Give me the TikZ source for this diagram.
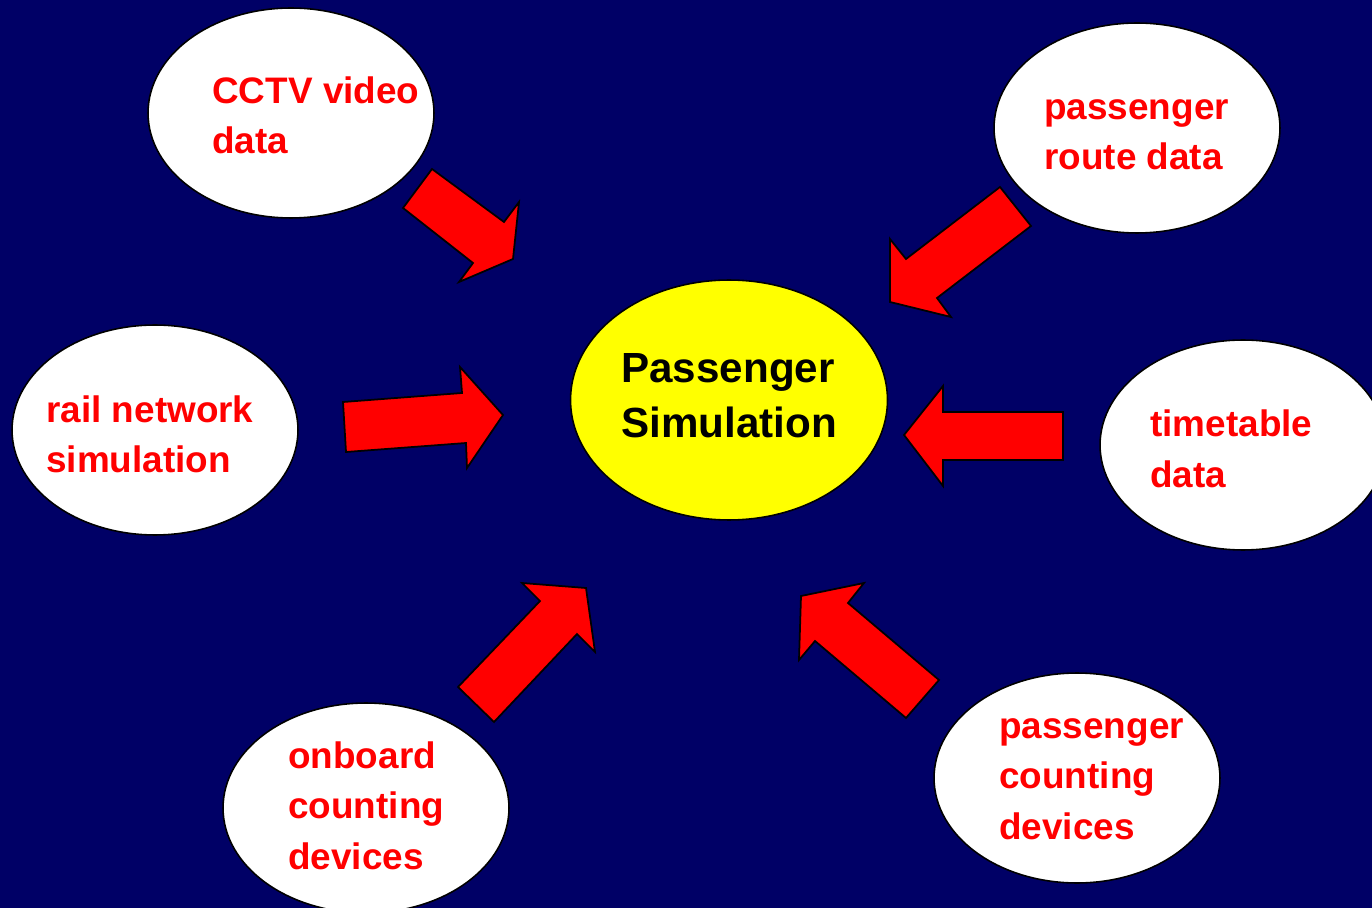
\documentclass[tikz,border=0pt]{standalone}
\usepackage{fontspec}
\setmainfont{Liberation Sans}
\usepackage{tikz}
\usetikzlibrary{shapes.geometric}
\definecolor{simnavy}{HTML}{000066}
\definecolor{simred}{HTML}{FF0000}
\definecolor{simyellow}{HTML}{FFFF00}

\begin{document}
\begin{tikzpicture}[
  x=0.02cm,y=-0.02cm,
  src/.style={ellipse,draw=black,line width=0.9pt,fill=white,minimum width=5.72cm,minimum height=4.2cm},
  srctext/.style={anchor=base west,inner sep=0pt,align=left,text=simred,font=\fontsize{21pt}{28.5pt}\selectfont\bfseries},
  fatarrow/.style={draw=black,line width=1pt,fill=simred,line join=miter}
]
\fill[simnavy] (0,0) rectangle (1372,908);
\useasboundingbox (0,0) rectangle (1372,908);
\clip (0,0) rectangle (1372,908);

\node[src] (cctv) at (291,113) {};
\node[src] (route) at (1137,128) {};
\node[src] (rail) at (155,430) {};
\node[src] (timetable) at (1243,445) {};
\node[src] (onboard) at (366,808) {};
\node[src] (counting) at (1077,778) {};
\node[ellipse,draw=black,line width=0.9pt,fill=simyellow,minimum width=6.34cm,minimum height=4.8cm] (sim) at (729,400) {};

\node[srctext] (cctvtext) at (212,154) {CCTV video\\data};
\node[srctext] (routetext) at (1044,170) {passenger\\route data};
\node[srctext] (railtext) at (46,473) {rail network\\simulation};
\node[srctext] (timetabletext) at (1150,487) {timetable\\data};
\node[srctext] (onboardtext) at (288,869) {onboard\\counting\\devices};
\node[srctext] (countingtext) at (999,839) {passenger\\counting\\devices};
\node[srctext,text=black,font=\fontsize{24pt}{31.5pt}\selectfont\bfseries] (simtext) at (621,438) {Passenger\\Simulation};

\draw[fatarrow] (432,169) -- (403,208) -- (473,263) -- (459,282) -- (513,259) -- (519,202) -- (504,222) -- cycle;
\draw[fatarrow] (1000,187) -- (1031,226) -- (937,298) -- (951,317) -- (890,302) -- (890,239) -- (906,259) -- cycle;
\draw[fatarrow] (343,402) -- (346,452) -- (466,443) -- (467,468) -- (503,415) -- (460,367) -- (462,393) -- cycle;
\draw[fatarrow] (1063,412) -- (1063,460) -- (943,460) -- (943,486) -- (904,435) -- (943,386) -- (943,412) -- cycle;
\draw[fatarrow] (458,687) -- (494,722) -- (577,634) -- (595,652) -- (586,588) -- (522,583) -- (540,601) -- cycle;
\draw[fatarrow] (939,680) -- (906,718) -- (815,641) -- (799,660) -- (801,596) -- (864,583) -- (848,603) -- cycle;
\end{tikzpicture}
\end{document}
